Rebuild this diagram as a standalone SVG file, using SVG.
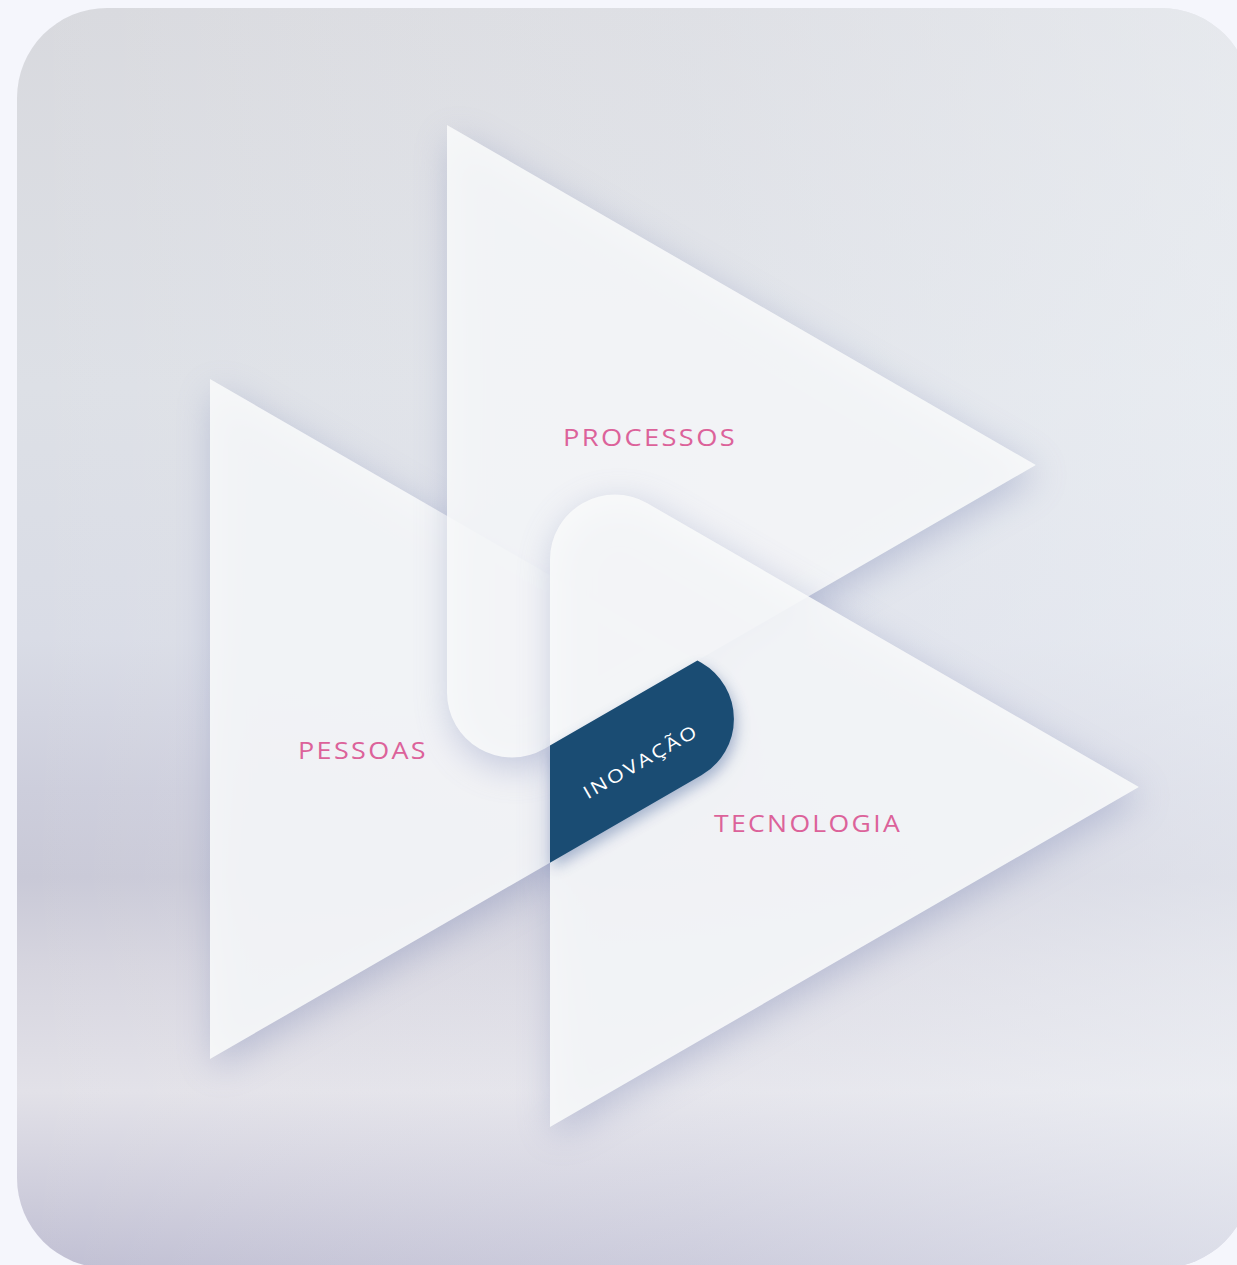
<svg xmlns="http://www.w3.org/2000/svg" width="1237" height="1265" viewBox="0 0 1237 1265">
<defs>
<linearGradient id="bgV" x1="0" y1="0" x2="0" y2="1">
<stop offset="0" stop-color="#d8d9de"/>
<stop offset="0.3" stop-color="#dde0e6"/>
<stop offset="0.5" stop-color="#d9dce6"/>
<stop offset="0.62" stop-color="#cdcedc"/>
<stop offset="0.69" stop-color="#c9c9d7"/>
<stop offset="0.76" stop-color="#d6d5df"/>
<stop offset="0.86" stop-color="#e2e1e8"/>
<stop offset="1" stop-color="#c0bfd3"/>
</linearGradient>
<linearGradient id="bgH" x1="0" y1="0" x2="1" y2="0">
<stop offset="0" stop-color="#ffffff" stop-opacity="0"/>
<stop offset="0.55" stop-color="#f2f5fa" stop-opacity="0.25"/>
<stop offset="1" stop-color="#f2f6fa" stop-opacity="0.55"/>
</linearGradient>
<filter id="sh" x="-30%" y="-30%" width="160%" height="160%">
<feGaussianBlur stdDeviation="18"/>
</filter>
<filter id="shB" x="-30%" y="-30%" width="160%" height="160%">
<feGaussianBlur stdDeviation="7"/>
</filter>
<style>
.tri{fill:#f9fafb;fill-opacity:0.88}
.shadow{fill:#7c86b4;opacity:0.4}
.lbl{font-family:"Open Sans","Liberation Sans",sans-serif;font-size:23px;font-weight:500;fill:#dc629a;letter-spacing:2px}
.inner{font-family:"Open Sans","Liberation Sans",sans-serif;font-size:18px;fill:#ffffff;letter-spacing:2px}
</style>
</defs>
<rect x="0" y="0" width="1237" height="1265" fill="#f5f6fc"/>
<g id="card">
<rect x="17" y="8" width="1234" height="1260" rx="90" fill="url(#bgV)"/>
<rect x="17" y="8" width="1234" height="1260" rx="90" fill="url(#bgH)"/>
</g>
<g id="pessoas">
<path class="shadow" filter="url(#sh)" transform="translate(4,10)" d="M210,379 L701.4,662.7 A65,65 0 0 1 701.4,775.3 L210,1059 Z"/>
<path class="tri" d="M210,379 L701.4,662.7 A65,65 0 0 1 701.4,775.3 L210,1059 Z"/>
<text class="lbl" x="298" y="759" textLength="130" lengthAdjust="spacingAndGlyphs">PESSOAS</text>
</g>
<g id="processos">
<path class="shadow" filter="url(#sh)" transform="translate(4,10)" d="M447,125 L1035.9,465 L544.5,748.7 A65,65 0 0 1 447,692.4 Z"/>
<path class="tri" d="M447,125 L1035.9,465 L544.5,748.7 A65,65 0 0 1 447,692.4 Z"/>
<text class="lbl" x="563" y="446" textLength="174" lengthAdjust="spacingAndGlyphs">PROCESSOS</text>
</g>
<g id="tecnologia">
<path class="shadow" filter="url(#sh)" transform="translate(4,10)" d="M550,1127 L550,559.6 A65,65 0 0 1 647.5,503.3 L1138.9,787 Z"/>
<path class="tri" d="M550,1127 L550,559.6 A65,65 0 0 1 647.5,503.3 L1138.9,787 Z"/>
<text class="lbl" x="714" y="832" textLength="188" lengthAdjust="spacingAndGlyphs">TECNOLOGIA</text>
</g>
<g id="inovacao">
<path fill="#3a5a94" opacity="0.4" filter="url(#shB)" transform="translate(3,6)" d="M550,745.5 L697.4,660.4 L701.4,662.7 A65,65 0 0 1 701.4,775.3 L550,862.7 Z"/>
<path fill="#1a4c73" d="M550,745.5 L697.4,660.4 L701.4,662.7 A65,65 0 0 1 701.4,775.3 L550,862.7 Z"/>
<text class="inner" x="644" y="767" text-anchor="middle" textLength="130" lengthAdjust="spacingAndGlyphs" transform="rotate(-30 644 767)">INOVAÇÃO</text>
</g>
<g id="connectors"/>
</svg>
